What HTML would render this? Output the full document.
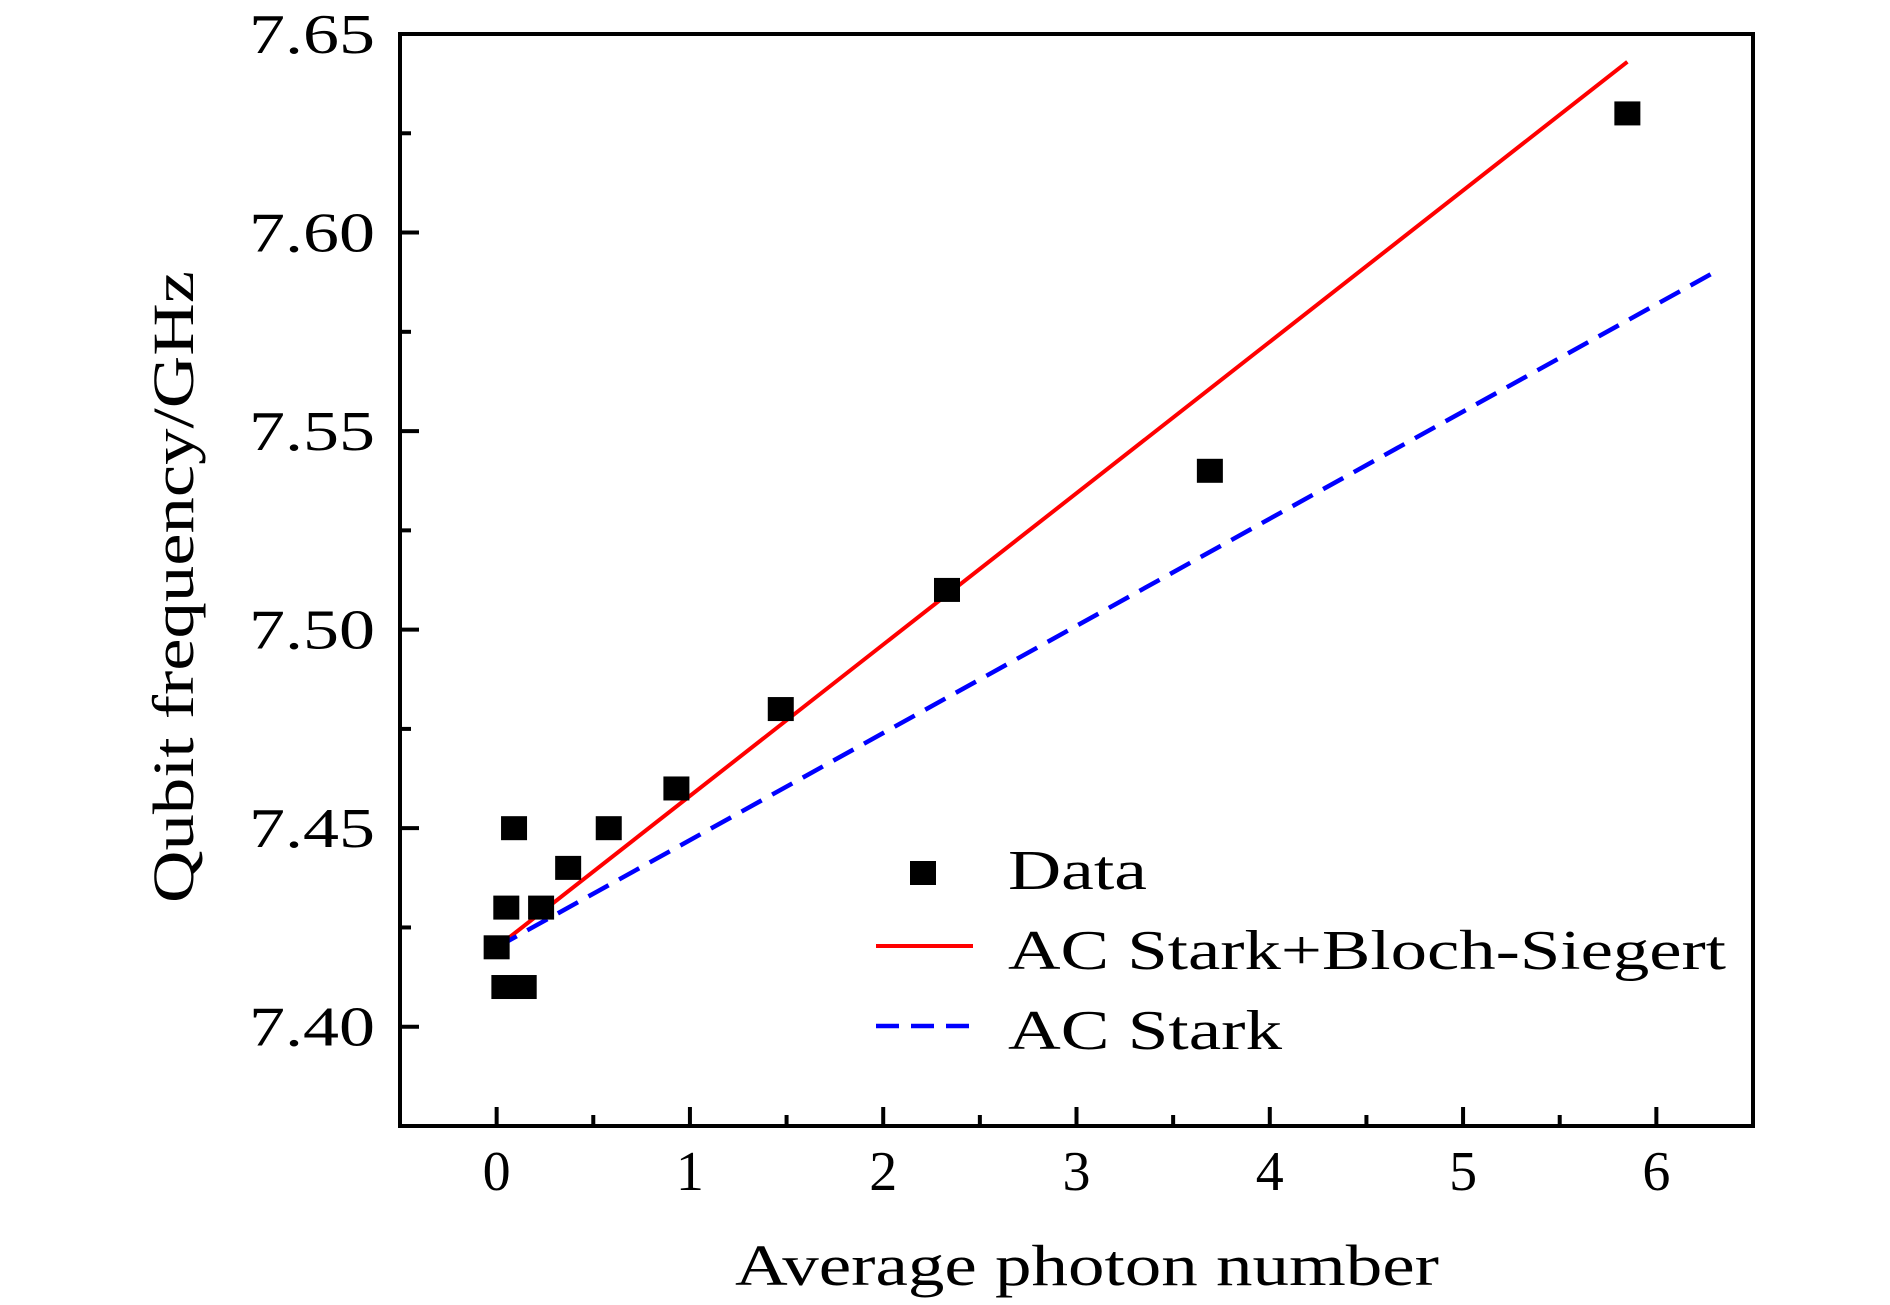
<!DOCTYPE html>
<html><head><meta charset="utf-8"><style>
html,body{margin:0;padding:0;background:#fff;}
svg text{font-family:"Liberation Serif","DejaVu Serif",serif;fill:#000;}
</style></head><body>
<svg id="chart" width="1890" height="1300" viewBox="0 0 1890 1300" xmlns="http://www.w3.org/2000/svg">
</svg>
<script>
const dataX=[0,0.05,0.09,0.04,0.14,0.23,0.37,0.58,0.93,1.47,2.33,3.69,5.85];
const dataY=[7.42,7.43,7.45,7.41,7.41,7.43,7.44,7.45,7.46,7.48,7.51,7.54,7.63];
const redX=[0,5.85];
const redY=[7.42,7.643];
const blueX=[0,6.3];
const blueY=[7.42,7.59];
const xTicks=[0,1,2,3,4,5,6];
const yTicks=[7.40,7.45,7.50,7.55,7.60,7.65];
const yTickLabels=["7.40","7.45","7.50","7.55","7.60","7.65"];

const L=400,R=1753,T=34,B=1126;
const xmin=-0.5,xmax=6.5,ymin=7.375,ymax=7.65;
const sx=v=>L+(v-xmin)/(xmax-xmin)*(R-L);
const sy=v=>B-(v-ymin)/(ymax-ymin)*(B-T);
const svg=document.getElementById('chart');
const NS='http://www.w3.org/2000/svg';
function mk(tag,attrs){const e=document.createElementNS(NS,tag);for(const k in attrs)e.setAttribute(k,attrs[k]);svg.appendChild(e);return e;}

xTicks.forEach(v=>{
  const t=mk('line',{x1:sx(v),x2:sx(v),y1:B,y2:B-19,stroke:'#000','stroke-width':4});
  
  
  const m=mk('line',{x1:sx(v+0.5),x2:sx(v+0.5),y1:B,y2:B-11,stroke:'#000','stroke-width':4});
  
  
  const lb=mk('text',{x:sx(v),y:1190,'font-size':56,'text-anchor':'middle'});
  lb.textContent=String(v);
  
  
});
yTicks.forEach((v,i)=>{
  const t=mk('line',{x1:L,x2:L+19,y1:sy(v),y2:sy(v),stroke:'#000','stroke-width':4});
  
  
  if(v-0.025>ymin){
    const m=mk('line',{x1:L,x2:L+11,y1:sy(v-0.025),y2:sy(v-0.025),stroke:'#000','stroke-width':4});
    
    
  }
  const lb=mk('text',{x:249,y:sy(v)+19,'font-size':56,textLength:126,lengthAdjust:'spacingAndGlyphs'});
  lb.textContent=yTickLabels[i];
  
  
});

const red=mk('polyline',{points:redX.map((x,i)=>sx(x)+','+sy(redY[i])).join(' '),fill:'none',stroke:'#ff0000','stroke-width':4});


const blue=mk('polyline',{points:blueX.map((x,i)=>sx(x)+','+sy(blueY[i])).join(' '),fill:'none',stroke:'#0000ff','stroke-width':4.5,'stroke-dasharray':'23,12'});



dataX.forEach((x,i)=>{
  const r=mk('rect',{x:sx(x)-13,y:sy(dataY[i])-12,width:26,height:24,fill:'#000'});
  
  
});

const fr=mk('rect',{x:L,y:T,width:R-L,height:B-T,fill:'none',stroke:'#000','stroke-width':4});



const lm=mk('rect',{x:910,y:861,width:26,height:24,fill:'#000'});


const lr=mk('line',{x1:876,x2:973,y1:946,y2:946,stroke:'#ff0000','stroke-width':4});


const lbl=mk('line',{x1:876,x2:973,y1:1026,y2:1026,stroke:'#0000ff','stroke-width':4.5,'stroke-dasharray':'23,12'});


[['Data',889,'legend-data-label',139],['AC Stark+Bloch-Siegert',969,'legend-red-label',718],['AC Stark',1049,'legend-blue-label',274]].forEach(a=>{
  const t=mk('text',{x:1008,y:a[1],'font-size':56,textLength:a[3],lengthAdjust:'spacingAndGlyphs'});
  t.textContent=a[0];
  
  
});

const xt=mk('text',{x:735,y:1285,'font-size':58,textLength:704,lengthAdjust:'spacingAndGlyphs'});
xt.textContent='Average photon number';


const yt=mk('text',{x:0,y:0,'font-size':58,textLength:632,lengthAdjust:'spacingAndGlyphs',transform:'translate(193,903) rotate(-90)'});
yt.textContent='Qubit frequency/GHz';


</script>
</body></html>
